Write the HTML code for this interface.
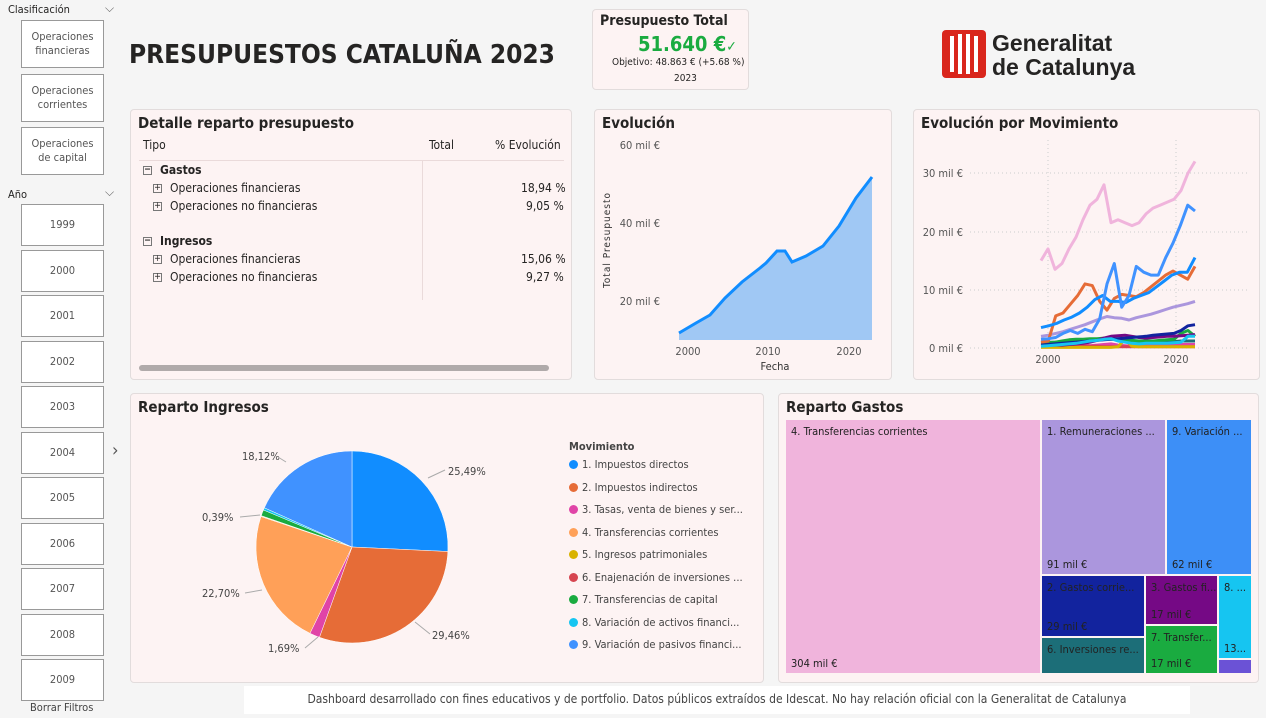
<!DOCTYPE html>
<html><head><meta charset="utf-8">
<style>
*{box-sizing:border-box;margin:0;padding:0}
body{width:1266px;height:718px;background:#f5f5f5;font-family:"DejaVu Sans Condensed","Liberation Sans",sans-serif;color:#252423;position:relative;overflow:hidden}
.abs{position:absolute}
.btn{position:absolute;left:21px;width:83px;background:#fff;border:1px solid #999;font-size:11px;color:#555;display:flex;align-items:center;justify-content:center;text-align:center;line-height:14px}
.panel{position:absolute;background:#fdf3f3;border:1px solid #e2dcdc;border-radius:4px}
.ptitle{position:absolute;left:7px;top:4px;font-size:15px;font-weight:bold;color:#252423}
.row{position:absolute;font-size:12px}
.box{display:inline-block;width:9px;height:9px;border:1px solid #777;font-size:9px;line-height:7px;text-align:center;margin-right:8px;vertical-align:middle}
.leg{position:absolute;left:568px;font-size:11px;color:#444}
.leg i{display:inline-block;width:9px;height:9px;border-radius:50%;margin-right:4px;vertical-align:-1px}
.tm{position:absolute;font-size:11px;color:#222;padding:5px;border-right:2px solid #fdf3f3;border-bottom:2px solid #fdf3f3;white-space:nowrap;overflow:hidden}
.tm b{font-weight:normal;position:absolute;left:5px;bottom:3px}
</style></head><body>
<div class="abs" style="left:8px;top:3px;font-size:11px">Clasificación</div>
<div class="abs" style="left:105px;top:1px;font-size:12px;color:#666">⌵</div>
<div class="btn" style="top:20px;height:48px">Operaciones<br>financieras</div>
<div class="btn" style="top:74px;height:48px">Operaciones<br>corrientes</div>
<div class="btn" style="top:127px;height:48px">Operaciones<br>de capital</div>
<div class="abs" style="left:8px;top:188px;font-size:11px">Año</div>
<div class="abs" style="left:105px;top:185px;font-size:12px;color:#666">⌵</div>
<div id="years"></div>
<div class="abs" style="left:30px;top:701px;font-size:11px;color:#444">Borrar Filtros</div>
<div class="abs" style="left:112px;top:440px;font-size:18px;color:#555">›</div>

<div class="abs" style="left:129px;top:40px;font-size:26px;font-weight:bold;white-space:nowrap">PRESUPUESTOS CATALUÑA 2023</div>

<div class="abs" style="left:592px;top:9px;width:157px;height:81px;background:#fdf3f3;border:1px solid #e2dcdc;border-radius:4px">
<div class="abs" style="left:7px;top:3px;font-size:14px;font-weight:bold">Presupuesto Total</div>
<div class="abs" style="left:45px;top:22px;font-size:20px;font-weight:bold;color:#1aab40">51.640 €<span style="font-size:14px">✓</span></div>
<div class="abs" style="left:19px;top:47px;font-size:10px">Objetivo: 48.863 € (+5.68 %)</div>
<div class="abs" style="left:81px;top:63px;font-size:10px">2023</div>
</div>

<svg class="abs" style="left:942px;top:30px" width="44" height="48"><rect x="0" y="0" width="44" height="48" rx="4" fill="#d9261c"/><g fill="#fff"><rect x="8" y="6" width="4" height="36"/><rect x="16" y="4" width="4" height="40"/><rect x="24" y="4" width="4" height="40"/><rect x="32" y="6" width="4" height="36"/></g></svg>
<div class="abs" style="left:992px;top:31px;font-size:23px;font-weight:bold;line-height:24px;font-family:'Liberation Sans',sans-serif">Generalitat<br>de Catalunya</div>

<!-- table -->
<div class="panel" style="left:130px;top:109px;width:442px;height:271px">
<div class="ptitle">Detalle reparto presupuesto</div>
<div class="row" style="left:12px;top:28px">Tipo</div>
<div class="row" style="left:298px;top:28px">Total</div>
<div class="row" style="left:364px;top:28px">% Evolución</div>
<div class="abs" style="left:8px;top:50px;width:425px;border-top:1px solid #eadada"></div>
<div class="abs" style="left:291px;top:50px;height:140px;border-left:1px solid #eadada"></div>
<div class="row" style="left:12px;top:53px;font-weight:bold"><span class="box">−</span>Gastos</div>
<div class="row" style="left:22px;top:71px"><span class="box">+</span>Operaciones financieras</div>
<div class="row" style="left:390px;top:71px">18,94 %</div>
<div class="row" style="left:22px;top:89px"><span class="box">+</span>Operaciones no financieras</div>
<div class="row" style="left:395px;top:89px">9,05 %</div>
<div class="row" style="left:12px;top:124px;font-weight:bold"><span class="box">−</span>Ingresos</div>
<div class="row" style="left:22px;top:142px"><span class="box">+</span>Operaciones financieras</div>
<div class="row" style="left:390px;top:142px">15,06 %</div>
<div class="row" style="left:22px;top:160px"><span class="box">+</span>Operaciones no financieras</div>
<div class="row" style="left:395px;top:160px">9,27 %</div>
<div class="abs" style="left:8px;top:255px;width:410px;height:6px;border-radius:3px;background:#b0aaaa"></div>
</div>

<div class="panel" style="left:594px;top:109px;width:298px;height:271px">
<div class="ptitle">Evolución</div></div>
<div class="panel" style="left:913px;top:109px;width:347px;height:271px">
<div class="ptitle">Evolución por Movimiento</div></div>
<div class="panel" style="left:130px;top:393px;width:634px;height:290px">
<div class="ptitle">Reparto Ingresos</div>
<div class="leg" style="top:46px;left:438px;font-weight:bold">Movimiento</div>
<div id="legend"></div>
</div>
<div class="panel" style="left:778px;top:393px;width:481px;height:290px">
<div class="ptitle">Reparto Gastos</div></div>

<svg class="abs" style="left:0;top:0" width="1266" height="718" id="sv" font-family="DejaVu Sans Condensed, Liberation Sans, sans-serif"></svg>

<!-- treemap -->
<div class="tm" style="left:786px;top:420px;width:256px;height:255px;background:#f0b4dc">4. Transferencias corrientes<b>304 mil €</b></div>
<div class="tm" style="left:1042px;top:420px;width:125px;height:156px;background:#ab96dd">1. Remuneraciones ...<b>91 mil €</b></div>
<div class="tm" style="left:1167px;top:420px;width:86px;height:156px;background:#3d8ff7">9. Variación ...<b>62 mil €</b></div>
<div class="tm" style="left:1042px;top:576px;width:104px;height:62px;background:#12239e">2. Gastos corrie...<b>29 mil €</b></div>
<div class="tm" style="left:1042px;top:638px;width:104px;height:37px;background:#1c6e78">6. Inversiones re...</div>
<div class="tm" style="left:1146px;top:576px;width:73px;height:50px;background:#750985">3. Gastos fi...<b>17 mil €</b></div>
<div class="tm" style="left:1146px;top:626px;width:73px;height:49px;background:#1aab40">7. Transfer...<b>17 mil €</b></div>
<div class="tm" style="left:1219px;top:576px;width:34px;height:84px;background:#16c5f1">8. ...<b>13...</b></div>
<div class="tm" style="left:1219px;top:660px;width:34px;height:15px;background:#6b52d6"></div>

<div class="abs" style="left:244px;top:686px;width:946px;height:28px;background:#fff;font-size:12px;color:#444;text-align:center;line-height:26px">Dashboard desarrollado con fines educativos y de portfolio. Datos públicos extraídos de Idescat. No hay relación oficial con la Generalitat de Catalunya</div>

<script>
var y=document.getElementById('years'),h='';
for(var i=0;i<11;i++){h+='<div class="btn" style="top:'+(204+i*45.5)+'px;height:42px">'+(1999+i)+'</div>';}
y.innerHTML=h;
var names=["1. Impuestos directos","2. Impuestos indirectos","3. Tasas, venta de bienes y ser...","4. Transferencias corrientes","5. Ingresos patrimoniales","6. Enajenación de inversiones ...","7. Transferencias de capital","8. Variación de activos financi...","9. Variación de pasivos financi..."];
var cols=["#118dff","#e66c37","#e044a7","#ffa058","#d9b300","#d64550","#1aab40","#16c5f1","#4092ff"];
h='';for(i=0;i<9;i++)h+='<div class="leg" style="left:438px;top:'+(64+i*22.5)+'px"><i style="background:'+cols[i]+'"></i>'+names[i]+'</div>';
document.getElementById('legend').innerHTML=h;
var s='';
function t(x,yy,tx,a,sz,c){s+='<text x="'+x+'" y="'+yy+'" font-size="'+(sz||11)+'" fill="'+(c||'#555')+'" text-anchor="'+(a||'start')+'">'+tx+'</text>';}
var pts=[[679,333],[696,323],[710,315],[725,298],[742,282],[760,268],[766,263],[777,251],[785,251],[792,262],[806,256],[823,246],[839,226],[856,198],[872,177]];
var p=pts.map(function(q){return q.join(',')}).join(' ');
s+='<polygon points="679,340 '+p+' 872,340" fill="#a0c8f4"/><polyline points="'+p+'" fill="none" stroke="#118dff" stroke-width="3"/>';
t(660,149,'60 mil €','end');t(660,227,'40 mil €','end');t(660,305,'20 mil €','end');
t(688,355,'2000','middle');t(768,355,'2010','middle');t(849,355,'2020','middle');
t(775,370,'Fecha','middle',11,'#333');
s+='<text transform="translate(610,240) rotate(-90)" font-size="10" fill="#333" text-anchor="middle" letter-spacing="1">Total Presupuesto</text>';
[173,232,290,348].forEach(function(v){s+='<line x1="970" x2="1248" y1="'+v+'" y2="'+v+'" stroke="#ccc" stroke-dasharray="1,3"/>';});
[1048,1176].forEach(function(v){s+='<line x1="'+v+'" x2="'+v+'" y1="140" y2="348" stroke="#ccc" stroke-dasharray="1,3"/>';});
t(963,177,'30 mil €','end');t(963,236,'20 mil €','end');t(963,294,'10 mil €','end');t(963,352,'0 mil €','end');
t(1048,363,'2000','middle');t(1176,363,'2020','middle');
var ser=[
["#e044a7",[0.3,0.3,0.4,0.5,0.8,0.5,0.6,0.4,0.5,0.6,0.7,0.5,0.4,0.3,0.4,0.5,0.4,0.4,0.5,0.5,0.6,0.6,0.6]],
["#d64550",[0.2,0.2,0.2,0.2,0.3,0.3,0.3,0.3,0.3,0.2,0.2,0.2,0.2,0.2,0.2,0.2,0.2,0.2,0.2,0.2,0.2,0.2,0.2]],
["#d9b300",[0.1,0.1,0.1,0.1,0.1,0.1,0.1,0.1,0.1,0.1,0.1,0.2,1.5,0.3,0.2,0.2,0.2,0.2,0.2,0.2,0.2,0.2,0.2]],
["#1c6e78",[1,1,1,1.1,1.2,1.2,1.3,1.4,1.4,1.5,1.5,1.4,1.3,1.2,1.1,1.1,1.1,1.1,1.1,1.1,1.2,1.2,1.2]],
["#1aab40",[0.8,0.9,1,1.2,1.4,1.5,1.5,1.6,1.6,1.7,1.6,1.5,1.4,1.3,1.2,1.2,1.2,1.3,1.4,1.5,2.5,3,2]],
["#750985",[0.5,0.5,0.5,0.5,0.6,0.7,0.8,1,1.3,1.7,2,2.1,2.2,2,1.8,1.7,1.8,1.9,2,2,2.1,2.2,2.3]],
["#12239e",[0.5,0.6,0.7,0.8,0.9,1,1.1,1.2,1.3,1.4,1.5,1.6,1.7,1.8,1.9,2,2.2,2.3,2.4,2.5,3,3.8,4]],
["#16c5f1",[0.3,0.4,0.5,0.6,0.7,0.8,1,1.2,1.3,1.5,1.6,1.2,1,0.8,0.7,0.8,0.8,0.8,0.8,0.9,1,2,2]],
["#ab96dd",[2,2.2,2.5,2.8,3.2,3.6,4,4.5,5,5.4,5.2,5.1,4.8,5.2,5.5,5.8,6.2,6.6,7,7.3,7.6,8]],
["#e66c37",[1,1.2,5.5,6,7.5,9,11,10.7,8,6.5,8.5,9.2,9,8.8,9.5,10.5,11.5,12.5,13.2,12.5,11.8,14]],
["#118dff",[3.5,3.8,4.2,4.8,5.3,6,7,8.3,9,8,8,7.8,8.5,9,9.5,10.5,11.5,12.5,13,13,15.5]],
["#4092ff",[1.5,1.6,1.8,2.5,3,2.5,3.2,2.8,5,11,14.5,7,9,14,13,12.5,12.5,15.5,18,21,24.5,23.5]],
["#f0b4dc",[15,17,13.5,14.5,17,19,22,24.5,25.5,28,21.5,22,21.5,21,21.5,23,24,24.5,25,25.5,27,30,32]]];
ser.forEach(function(a){var v=a[1],n=v.length,pp=[];for(var k=0;k<n;k++){var x=1041+k*(154/(n-1));pp.push(x.toFixed(1)+','+(348-v[k]*5.83).toFixed(1));}
s+='<polyline points="'+pp.join(' ')+'" fill="none" stroke="'+a[0]+'" stroke-width="3" stroke-linejoin="round"/>';});
var vals=[25.49,29.46,1.69,22.70,0.1,0.05,1.0,0.39,18.12],tot=0;vals.forEach(function(v){tot+=v});
var cx=352,cy=547,r=96,ang=-Math.PI/2;
vals.forEach(function(v,i){var a2=ang+v/tot*2*Math.PI;var lg=(a2-ang)>Math.PI?1:0;
s+='<path d="M'+cx+','+cy+' L'+(cx+r*Math.cos(ang)).toFixed(2)+','+(cy+r*Math.sin(ang)).toFixed(2)+' A'+r+','+r+' 0 '+lg+' 1 '+(cx+r*Math.cos(a2)).toFixed(2)+','+(cy+r*Math.sin(a2)).toFixed(2)+' Z" fill="'+cols[i]+'" stroke="#fff" stroke-width="0.5"/>';ang=a2;});
t(448,475,'25,49%','start',11,'#444');t(432,639,'29,46%','start',11,'#444');t(268,652,'1,69%','start',11,'#444');
t(202,597,'22,70%','start',11,'#444');t(202,521,'0,39%','start',11,'#444');t(242,460,'18,12%','start',11,'#444');
s+='<g stroke="#aaa" fill="none"><path d="M428,478 L445,470"/><path d="M415,622 L430,634"/><path d="M318,637 L305,648"/><path d="M262,590 L245,593"/><path d="M260,515 L240,517"/><path d="M286,462 L278,457"/></g>';
document.getElementById('sv').innerHTML=s;
</script>
</body></html>
